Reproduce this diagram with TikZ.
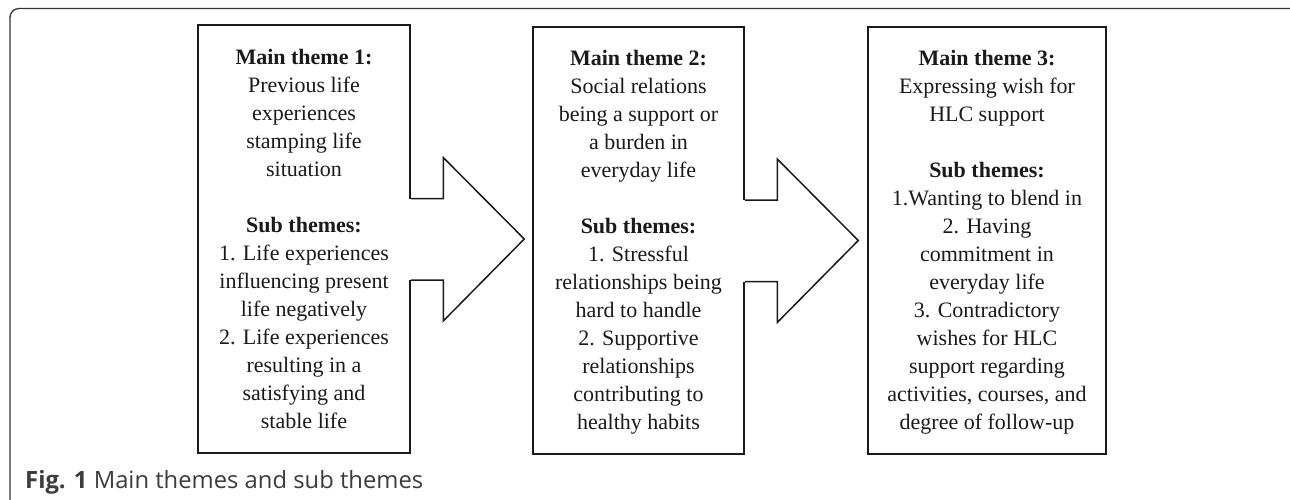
\documentclass[tikz,border=0pt]{standalone}
\usepackage{fontspec}
\setmainfont{Liberation Serif}
\newfontfamily\capfont{Open Sans}
\usetikzlibrary{calc}
\definecolor{ink}{HTML}{1A1A1A}
\definecolor{framegray}{HTML}{333333}
\definecolor{capgray}{HTML}{3C3C3C}
\tikzset{
  themebox/.style={draw=ink, line width=1.5pt, rectangle, inner sep=0pt, fill=white},
  themetext/.style={align=center, inner sep=0pt, anchor=north, text=ink,
    font=\fontsize{22}{28}\selectfont},
  arrowline/.style={draw=ink, line width=1.5pt, line join=miter},
  frameline/.style={draw=framegray, line width=1.3pt, rounded corners=9pt},
}
\newcommand{\themearrow}[1]{%
  \fill[white] ($(#1.east)+(-1.5,-40.5)$) rectangle ($(#1.east)+(1.5,41)$);
  \draw[arrowline] ($(#1.east)+(0,-40.5)$) -- ++(32.5,0) -- ++(0,-41)
    -- ($(#1.east)+(113.5,0)$) -- ($(#1.east)+(32.5,82)$) -- ++(0,-41)
    -- ($(#1.east)+(0,41)$);
}
\begin{document}
\begin{tikzpicture}[x=1pt,y=-1pt]
\useasboundingbox (0,0) rectangle (1290,500);
\begin{scope}
\clip (0,0) rectangle (1290,500);
\draw[frameline] (40,509) -- (10,509) -- (10,8.5) -- (1299,8.5) -- (1299,40);
\end{scope}

\node[themebox, minimum width=212pt, minimum height=428pt] (b1) at (304,239) {};
\node[themebox, minimum width=211pt, minimum height=427pt] (b2) at (638.5,240.5) {};
\node[themebox, minimum width=238pt, minimum height=427pt] (b3) at (987,240.5) {};

\themearrow{b1}
\themearrow{b2}

\node[themetext] (t1) at (304,44) {\rule{0pt}{20pt}\textbf{Main theme 1:}\\
Previous life\\ experiences\\ stamping life\\ situation\\[28pt]
\textbf{Sub themes:}\\ 1. Life experiences\\ influencing present\\ life negatively\\
2. Life experiences\\ resulting in a\\ satisfying and\\ stable life};

\node[themetext] (t2) at (638.5,45) {\rule{0pt}{20pt}\textbf{Main theme 2:}\\
Social relations\\ being a support or\\ a burden in\\ everyday life\\[28pt]
\textbf{Sub themes:}\\ 1. Stressful\\ relationships being\\ hard to handle\\
2. Supportive\\ relationships\\ contributing to\\ healthy habits};

\node[themetext] (t3) at (987,45) {\rule{0pt}{20pt}\textbf{Main theme 3:}\\
Expressing wish for\\ HLC support\\[28pt]
\textbf{Sub themes:}\\ 1.Wanting to blend in\\ 2. Having\\ commitment in\\ everyday life\\
3. Contradictory\\ wishes for HLC\\ support regarding\\ activities, courses, and\\
degree of follow-up};

\node[anchor=base west, inner sep=0pt, text=capgray, font=\capfont\fontsize{23.8}{28}\selectfont]
  (cap) at (25,488) {\textbf{Fig. 1} Main themes and sub themes};
\end{tikzpicture}
\end{document}
